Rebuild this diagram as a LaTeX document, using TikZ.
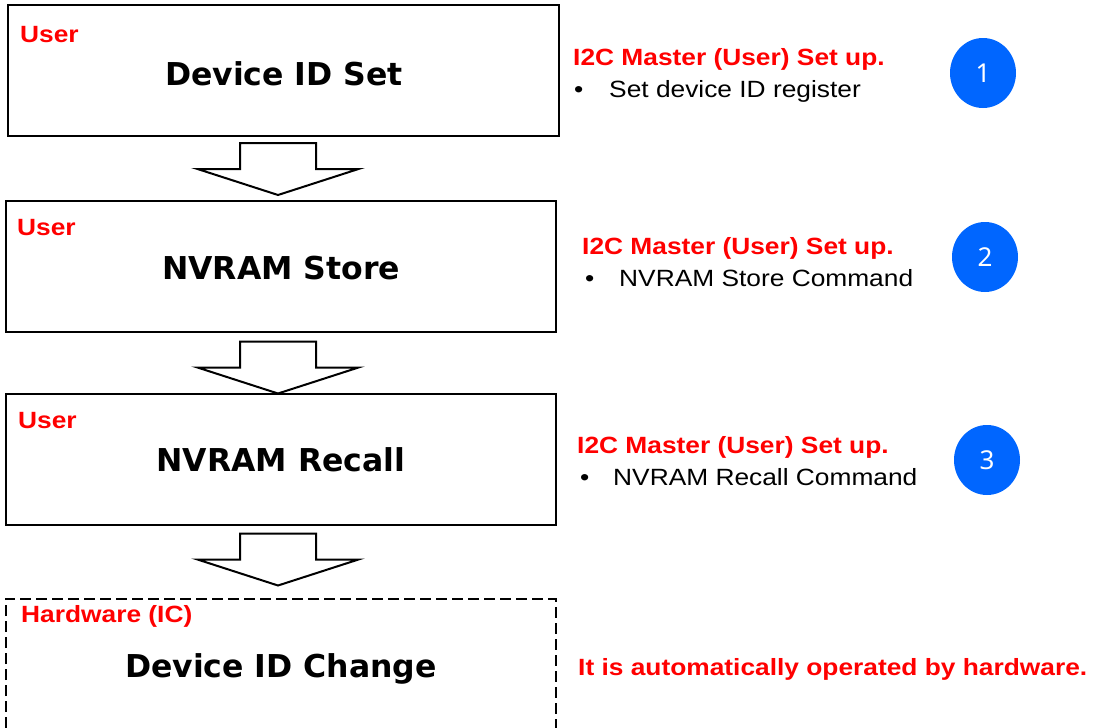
\documentclass[tikz,border=0pt]{standalone}
\usepackage{fontspec}
\setmainfont{Liberation Sans}
\newfontfamily\arialfont[FakeStretch=1.12]{Liberation Sans}
\newfontfamily\titlefont{DejaVu Sans}
\newfontfamily\numfont{Noto Sans}
\usetikzlibrary{calc,shapes.geometric}
\definecolor{myred}{RGB}{255,0,0}
\definecolor{myblue}{RGB}{0,102,255}
\tikzset{
  stepbox/.style={draw=black, line width=2pt, fill=white, inner sep=0pt, minimum width=550pt, minimum height=131pt},
  userlbl/.style={anchor=base west, inner sep=0pt, text=myred, font=\arialfont\bfseries\fontsize{23.5}{23.5}\selectfont},
  titlelbl/.style={anchor=base, inner sep=0pt, text=black, font=\titlefont\bfseries\fontsize{31.5}{31.5}\selectfont},
  headlbl/.style={anchor=base west, inner sep=0pt, text=myred, font=\arialfont\bfseries\fontsize{23.5}{23.5}\selectfont},
  bulletlbl/.style={anchor=base west, inner sep=0pt, text=black, font=\arialfont\fontsize{23.5}{23.5}\selectfont},
  numcircle/.style={draw=none, fill=myblue, ellipse, inner sep=0pt, minimum width=66pt, minimum height=70pt, text=white, font=\numfont\fontsize{26}{26}\selectfont},
  arrowline/.style={draw=black, line width=2pt, fill=white, line join=miter},
  dashbox/.style={draw=black, line width=2pt, dash pattern=on 11pt off 5pt},
  blockarrow/.pic={\draw[arrowline] (-38,0) -- (38,0) -- (38,26) -- (80.5,26) -- (0,52) -- (-80.5,26) -- (-38,26) -- cycle;}
}
\begin{document}
\begin{tikzpicture}[x=1pt,y=-1pt]
\useasboundingbox[fill=white] (0,0) rectangle (1093,728);
% boxes
\node[stepbox, minimum width=551pt] (b1) at (283.5,70.5) {};
\node[stepbox] (b2) at (280.5,266) {};
\node[stepbox] (b3) at (280.5,459) {};
\node[inner sep=0pt, minimum width=550pt, minimum height=129pt] (b4) at (281,663.5) {};
\draw[dashbox] (b4.south west) -- (b4.north west) -- (b4.north east) -- (b4.south east);
% labels inside boxes
\node[userlbl] (u1) at (20,42.5) {User};
\node[userlbl] (u2) at (17,235) {User};
\node[userlbl] (u3) at (18,428) {User};
\node[userlbl] (u4) at (21,622) {Hardware (IC)};
\node[titlelbl] (t1) at (284,85.5) {Device ID Set};
\node[titlelbl] (t2) at (281,279.5) {NVRAM Store};
\node[titlelbl] (t3) at (281,471.5) {NVRAM Recall};
\node[titlelbl] (t4) at (281,677.5) {Device ID Change};
% block arrows
\pic at ($(b1.south)+(-5.5,6)$) {blockarrow};
\pic at ($(b2.south)+(-2.5,9)$) {blockarrow};
\pic at ($(b3.south)+(-2.5,8)$) {blockarrow};
% right side
\node[headlbl] (h1) at (573,65) {I2C Master (User) Set up.};
\node[bulletlbl] (p1) at (574,97) {•};
\node[bulletlbl] (s1) at (609,97) {Set device ID register};
\node[headlbl] (h2) at (582,254.5) {I2C Master (User) Set up.};
\node[bulletlbl] (p2) at (585,286.5) {•};
\node[bulletlbl] (s2) at (619,286.5) {NVRAM Store Command};
\node[headlbl] (h3) at (577,453) {I2C Master (User) Set up.};
\node[bulletlbl] (p3) at (580,485) {•};
\node[bulletlbl] (s3) at (613,485) {NVRAM Recall Command};
\node[headlbl] (h4) at (578,675) {It is automatically operated by hardware.};
% circles
\node[numcircle] (c1) at (983,73) {1};
\node[numcircle] (c2) at (985,257) {2};
\node[numcircle] (c3) at (987,460) {3};
\end{tikzpicture}
\end{document}
